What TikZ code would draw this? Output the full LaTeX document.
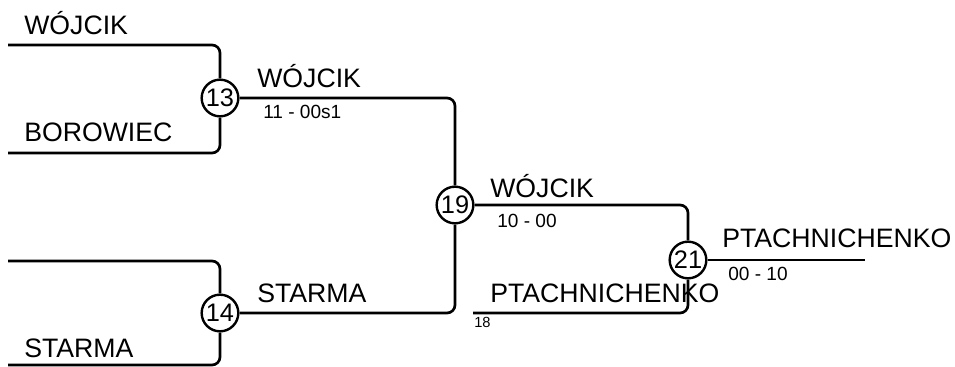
\documentclass[tikz,border=0pt]{standalone}
\usepackage{fontspec}
\setmainfont{Liberation Sans}
\usetikzlibrary{calc,positioning}

\tikzset{
  match/.style={draw, circle, fill=white, line width=1.8pt, inner sep=0pt, minimum size=27.5pt, font=\fontsize{19}{19}\selectfont},
  bracket/.style={line width=2pt, rounded corners=6pt},
  player/.style={anchor=base west, inner sep=0pt, font=\fontsize{20}{20}\selectfont},
  score/.style={anchor=base west, inner sep=0pt, font=\fontsize{14.3}{14}\selectfont},
  seed/.style={anchor=base west, inner sep=0pt, font=\fontsize{11}{11}\selectfont}
}

\begin{document}
\begin{tikzpicture}[x=0.75pt, y=-0.75pt]
        \useasboundingbox (0,0) rectangle (955,367);
        %
        \coordinate (s1) at (8,45);
        \coordinate (s2) at (8,153);
        \coordinate (s3) at (8,261);
        \coordinate (s4) at (8,365);
        \coordinate (s18) at (473,313);
        \coordinate (fin) at (865,260);

        %
        \node[match] (m13) at (220,98) {13};
        \node[match] (m14) at (220,313) {14};
        \node[match] (m19) at (455,205) {19};
        \node[match] (m21) at (688,260) {21};

        \draw[bracket] (s1) -| (m13);
        \draw[bracket] (s2) -| (m13);
        \draw[bracket] (s3) -| (m14);
        \draw[bracket] (s4) -| (m14);
        \draw[bracket] (m13) -| (m19);
        \draw[bracket] (m14) -| (m19);
        \draw[bracket] (m19) -| (m21);
        \draw[bracket] (s18) -| (m21);
        \draw[bracket] (m21) -- (fin);

        %
        \node[player] at (24,35) {WÓJCIK};
        \node[player] at (24,142) {BOROWIEC};
        \node[player] at (24,357) {STARMA};
        \node[player] at (257,87.5) {WÓJCIK};
        \node[player] at (257,302) {STARMA};
        \node[player] at (490,197) {WÓJCIK};
        \node[player] at (490,302) {PTACHNICHENKO};
        \node[player] at (722,247) {PTACHNICHENKO};

        \node[score] at (263,118) {11 - 00s1};
        \node[score] at (497,227) {10 - 00};
        \node[score] at (728,280) {00 - 10};
        \node[seed] at (474,327) {18};
    \end{tikzpicture}
\end{document}
